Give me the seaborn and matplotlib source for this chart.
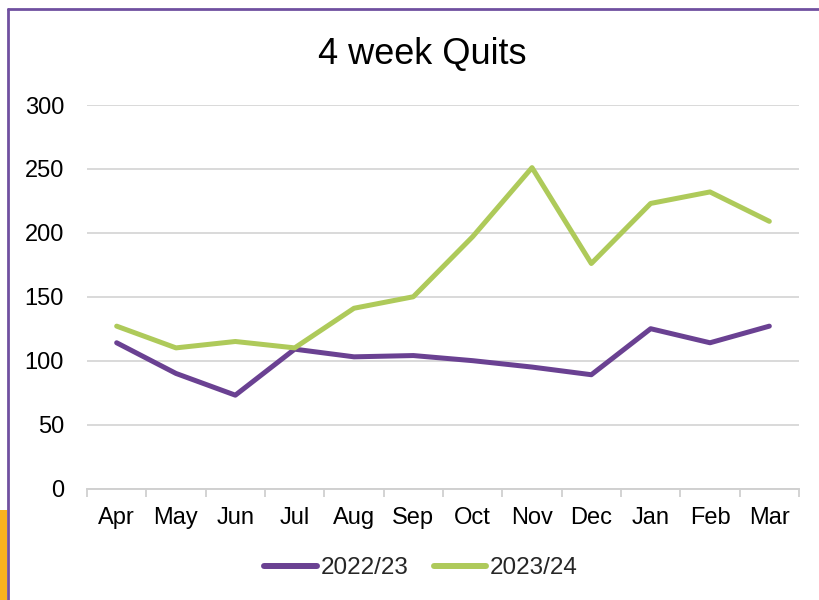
import matplotlib
matplotlib.use("Agg")
import matplotlib.pyplot as plt
import seaborn as sns
import pandas as pd
from matplotlib.lines import Line2D
from matplotlib.patches import Rectangle

months = ["Apr", "May", "Jun", "Jul", "Aug", "Sep", "Oct", "Nov", "Dec", "Jan", "Feb", "Mar"]
series_names = ["2022/23", "2023/24"]
quits_2022_23 = [114, 90, 73, 109, 103, 104, 100, 95, 89, 125, 114, 127]
quits_2023_24 = [127, 110, 115, 110, 141, 150, 197, 251, 176, 223, 232, 209]
y_ticks = [0, 50, 100, 150, 200, 250, 300]
colors = ["#6A4192", "#AECA5A"]

rows = []
for name, vals in zip(series_names, [quits_2022_23, quits_2023_24]):
    for i, (m, v) in enumerate(zip(months, vals)):
        rows.append({"pos": i, "month": m, "series": name, "value": v})
df = pd.DataFrame(rows)

sns.set_theme(style="white")
plt.rcParams["font.family"] = ["Liberation Sans", "DejaVu Sans"]

FS = 17
fig = plt.figure(figsize=(8.2, 6.0), dpi=100)
ax = fig.add_axes([87/820, 1-488.5/600, (799-87)/820, (488.5-105)/600])

sns.lineplot(data=df, x="pos", y="value", hue="series", palette=colors,
             linewidth=3.6, sort=False, ax=ax, legend=False)

ax.set_xlim(-0.5, len(months) - 0.5)
ax.set_ylim(0, 300)
ax.set_yticks(y_ticks)
ax.set_yticklabels([str(t) for t in y_ticks], fontsize=FS, color="#000000")
ax.set_xticks(range(len(months)))
ax.set_xticklabels(months, fontsize=FS, color="#000000")
ax.set_xticks([i - 0.5 for i in range(len(months) + 1)], minor=True)
ax.tick_params(axis="x", which="major", length=0, pad=13.5)
ax.tick_params(axis="x", which="minor", length=5.5, width=1.3, color="#D0D0D0", direction="out", bottom=True)
ax.tick_params(axis="y", length=0, pad=16.5)
ax.set_xlabel("")
ax.set_ylabel("")
ax.grid(axis="y", color="#D9D9D9", linewidth=1.4)
ax.set_axisbelow(True)
for s in ["top", "right", "left"]:
    ax.spines[s].set_visible(False)
ax.spines["bottom"].set_color("#D0D0D0")
ax.spines["bottom"].set_linewidth(1.4)
ax.set_facecolor("white")

fig.text(422/820, 1-64/600, "4 week Quits", ha="center", va="baseline", fontsize=26, color="#000000")

handles = [Line2D([0], [0], color=c, linewidth=4.3, solid_capstyle="round") for c in colors]
fig.legend(handles, series_names, loc="center", bbox_to_anchor=(421/820, 1-568/600),
           ncol=2, frameon=False, fontsize=17.5, handlelength=2.15, handletextpad=0.15,
           columnspacing=1.05)

# decorative border and slide fragment
fig.add_artist(Line2D([8/820, 8/820], [0, 1-9/600], transform=fig.transFigure,
                      color="#7050A0", linewidth=2.0))
fig.add_artist(Line2D([8/820, 1], [1-9/600, 1-9/600], transform=fig.transFigure,
                      color="#7050A0", linewidth=2.0))
fig.add_artist(Rectangle((0, 0), 6.7/820, 90/600, transform=fig.transFigure,
                         facecolor="#F8B21E", edgecolor="none"))

fig.savefig("out.png", dpi=100, facecolor="white")
